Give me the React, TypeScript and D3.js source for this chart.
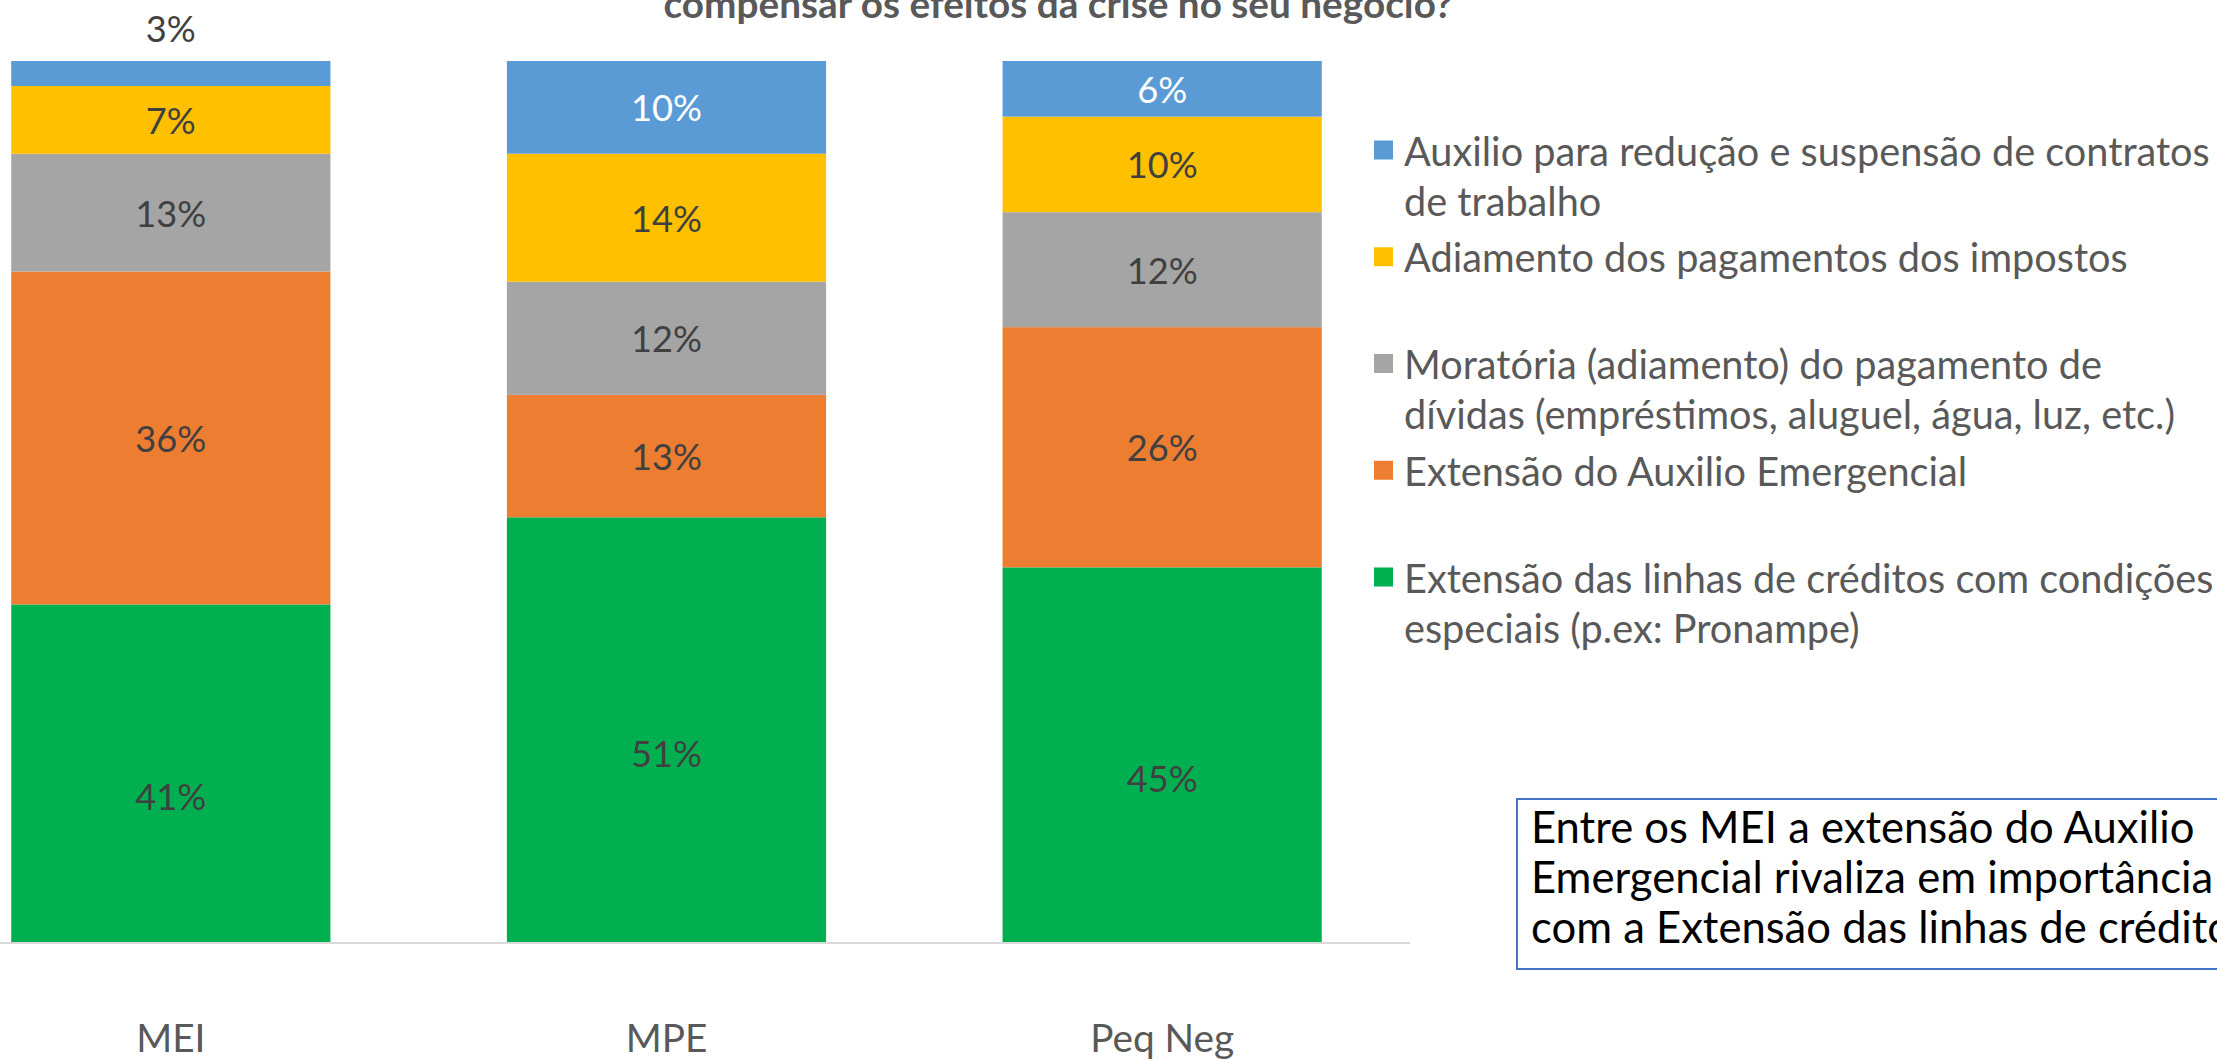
import React from "react";
import * as d3 from "d3";

const categories = ["MEI", "MPE", "Peq Neg"];
const seriesNames = [
  "Extensão das linhas de créditos com condições especiais (p.ex: Pronampe)",
  "Extensão do Auxilio Emergencial",
  "Moratória (adiamento) do pagamento de dívidas (empréstimos, aluguel, água, luz, etc.)",
  "Adiamento dos pagamentos dos impostos",
  "Auxilio para redução e suspensão de contratos de trabalho",
];
const seriesColors = ["#00B050", "#ED7D31", "#A5A5A5", "#FFC000", "#5B9BD5"];
// values (%) per category, bottom to top of the stack
const creditos = [41.4, 50.8, 45.4];
const auxilioEmergencial = [35.9, 13.2, 25.9];
const moratoria = [12.7, 12.2, 12.4];
const adiamentoImpostos = [7.3, 13.8, 10.3];
const reducaoContratos = [2.7, 10.0, 6.0];
const seriesValues = [creditos, auxilioEmergencial, moratoria, adiamentoImpostos, reducaoContratos];
const labelColors = ["#404040", "#404040", "#404040", "#404040", "#FFFFFF"];
const titleLine = "compensar os efeitos da crise no seu negócio?";
const noteLines = [
  "Entre os MEI a extensão do Auxilio",
  "Emergencial rivaliza em importância",
  "com a Extensão das linhas de créditos",
];
const yDomain = [5, 100];

const W = 2217;
const H = 1061;
const FAM = "Lato";
const FONT = "Lato, 'Open Sans', sans-serif";

let _ctx: CanvasRenderingContext2D | null = null;
function ctx() {
  if (!_ctx) _ctx = document.createElement("canvas").getContext("2d")!;
  return _ctx;
}
function measure(text: string, size: number, weight = 400) {
  const c = ctx();
  c.font = `${weight} ${size}px ${FAM}`;
  return c.measureText(text).width;
}
function fitSize(text: string, target: number, weight = 400) {
  return (100 * target) / measure(text, 100, weight);
}
function wrap(text: string, size: number, maxW: number): string[] {
  const words = text.split(" ");
  const lines: string[] = [];
  let cur = "";
  for (const w of words) {
    const t = cur ? cur + " " + w : w;
    if (measure(t, size) > maxW && cur) {
      lines.push(cur);
      cur = w;
    } else cur = t;
  }
  if (cur) lines.push(cur);
  return lines;
}

export default function App() {
  const x = d3.scaleBand<string>().domain(categories).range([-77, 1410]).paddingInner(0.356).paddingOuter(0.178);
  const yRaw = d3.scaleLinear().domain(yDomain).range([942, 61]);
  const y = yRaw.copy().clamp(true);

  const table = categories.map((c, i) => {
    const row: any = { cat: c };
    seriesValues.forEach((s, k) => (row["s" + k] = s[i]));
    return row;
  });
  const stack = d3.stack<any>().keys(seriesValues.map((_, k) => "s" + k))(table);

  const legendSize = fitSize("Adiamento dos pagamentos dos impostos", 724);
  const catSize = fitSize("Peq Neg", 144);
  const titleSize = fitSize(titleLine, 790, 700);
  const noteSize = fitSize(noteLines[0], 665);
  const labelSize = fitSize("51%", 71);
  const slot = 106.75;

  return (
    <svg width={W} height={H} style={{ position: "absolute", left: 0, top: 0, background: "#fff" }}>
      <text x={1058} y={18} textAnchor="middle" fontFamily={FONT} fontWeight={700} fontSize={titleSize} fill="#595959">
        {titleLine}
      </text>

      {stack.map((layer, k) => (
        <g key={k}>
          {layer.map((d, i) => {
            const cat = categories[i];
            const x0 = x(cat)!;
            const top = y(d[1]);
            const bot = y(d[0]);
            const hgt = yRaw(d[0]) - yRaw(d[1]);
            const small = hgt < 30;
            const ly = small ? yRaw(d[1]) - 33 : (yRaw(d[0]) + yRaw(d[1])) / 2;
            return (
              <g key={i}>
                <rect x={x0} y={top} width={x.bandwidth()} height={bot - top} fill={seriesColors[k]} />
                <text
                  x={x0 + x.bandwidth() / 2}
                  y={ly}
                  textAnchor="middle"
                  dominantBaseline="central"
                  fontFamily={FONT}
                  fontSize={labelSize}
                  fill={small ? "#404040" : labelColors[k]}
                >
                  {Math.round(seriesValues[k][i])}%
                </text>
              </g>
            );
          })}
        </g>
      ))}

      <line x1={0} x2={1410} y1={943} y2={943} stroke="#D9D9D9" strokeWidth={2} />
      {categories.map((c) => (
        <text
          key={c}
          x={x(c)! + x.bandwidth() / 2}
          y={1037}
          textAnchor="middle"
          dominantBaseline="central"
          fontFamily={FONT}
          fontSize={catSize}
          fill="#595959"
        >
          {c}
        </text>
      ))}

      {seriesNames
        .map((n, k) => ({ n, k }))
        .reverse()
        .map(({ n, k }, j) => {
          const cy = 150 + j * slot;
          const lines = wrap(n, legendSize, 812);
          return (
            <g key={k}>
              <rect x={1374} y={cy - 9.5} width={19} height={19} fill={seriesColors[k]} />
              {lines.map((l, li) => (
                <text
                  key={li}
                  x={1404}
                  y={cy + li * 50}
                  dominantBaseline="central"
                  fontFamily={FONT}
                  fontSize={legendSize}
                  fill="#595959"
                >
                  {l}
                </text>
              ))}
            </g>
          );
        })}

      <rect x={1517} y={799} width={800} height={170} fill="#fff" stroke="#4472C4" strokeWidth={2} />
      {noteLines.map((l, i) => (
        <text key={i} x={1531} y={826 + i * 50} dominantBaseline="central" fontFamily={FONT} fontSize={noteSize} fill="#000">
          {l}
        </text>
      ))}
    </svg>
  );
}
